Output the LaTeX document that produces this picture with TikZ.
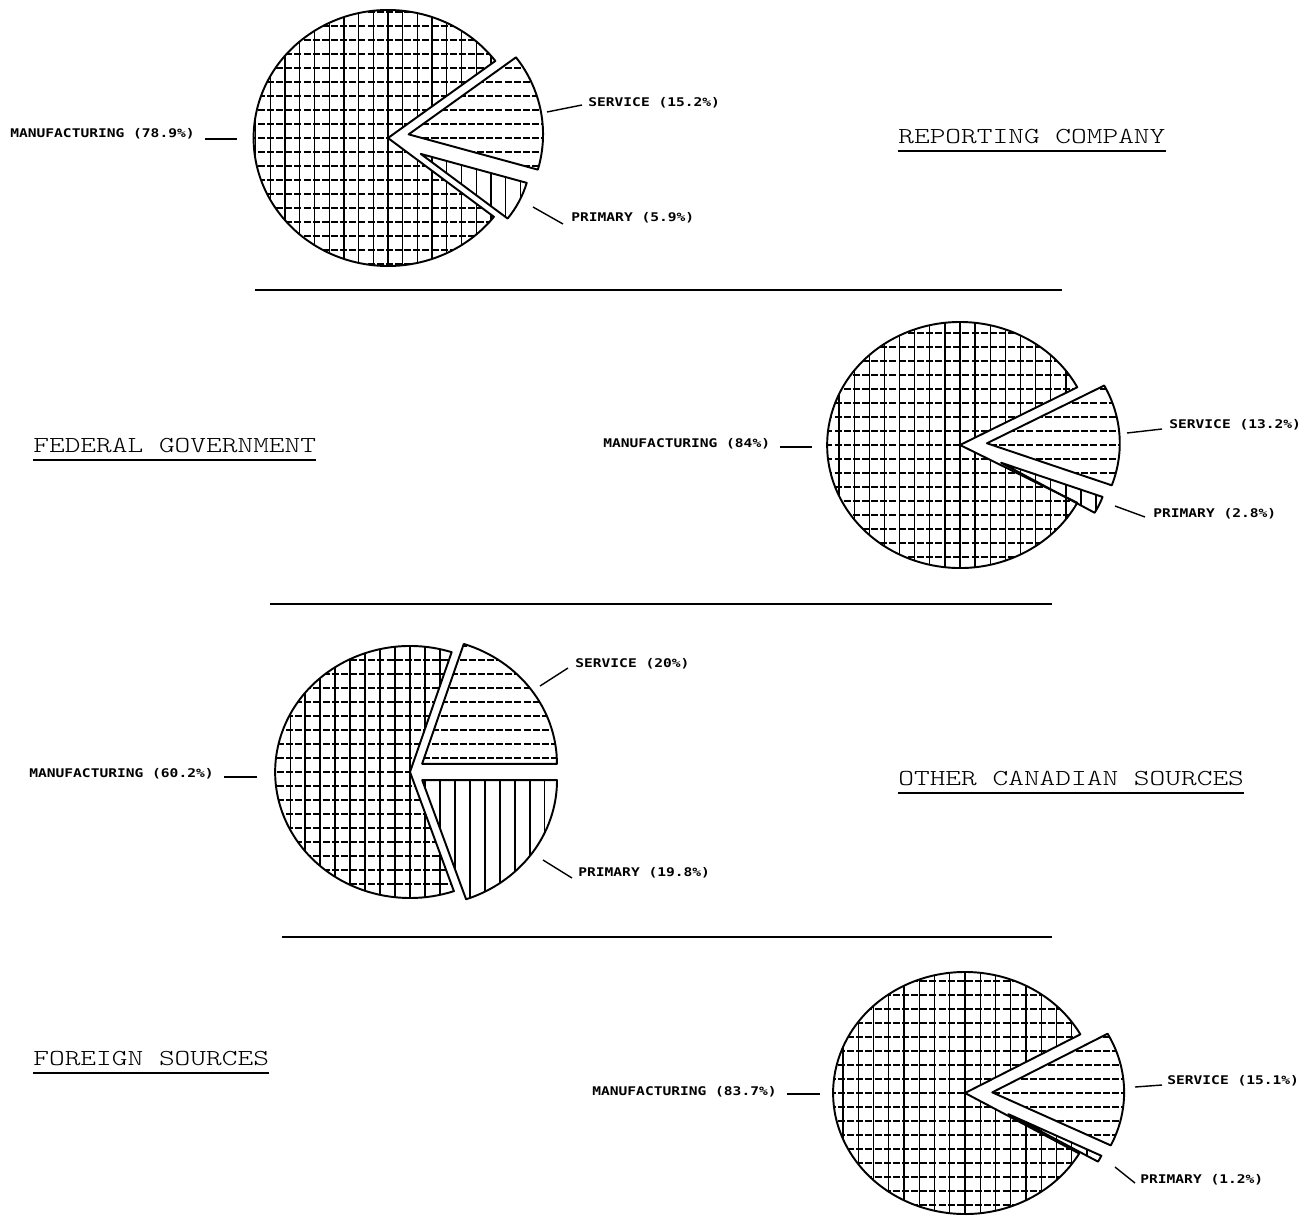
\documentclass[tikz,border=0pt]{standalone}
\usepackage{fontspec}
\newfontfamily\plotfont[FakeStretch=1.22]{DejaVu Sans Mono}
\newfontfamily\titlefont[FakeStretch=1.31]{lmmonolt10-regular.otf}
\usetikzlibrary{positioning}
\tikzstyle{slice edge}=[draw, line width=1.1pt, line join=round]
\tikzstyle{hatch solid}=[line width=0.75pt]
\tikzstyle{hatch dashed}=[line width=0.6pt, dash pattern=on 4pt off 1.2pt]
\tikzstyle{pie label}=[font=\plotfont\bfseries\fontsize{6.8}{8}\selectfont, inner sep=0, anchor=west]
\tikzstyle{leader}=[line width=0.8pt]
\tikzstyle{title}=[font=\titlefont\fontsize{13}{16}\selectfont, inner sep=0, anchor=base west]
\tikzstyle{rule}=[line width=1.1pt]

\newcommand{\gridhatch}{%
  \foreach \hx in {-140,-126,...,140} \draw[hatch solid] (\hx,-150) -- (\hx,150);
  \foreach \hy in {-140,-126,...,140} \draw[hatch dashed] (-150,\hy) -- (150,\hy);}
\newcommand{\horizhatch}{%
  \foreach \hy in {-140,-126,...,140} \draw[hatch dashed] (-150,\hy) -- (150,\hy);}
\newcommand{\verthatch}{%
  \foreach \hx in {-140,-126,...,140} \draw[hatch solid] (\hx,-150) -- (\hx,150);}

% start angle, end angle, offset, radius, hatch
\newcommand{\pieslice}[5]{%
  \pgfmathsetmacro{\slicemid}{(#1+#2)/2}
  \begin{scope}
    \clip (\slicemid:#3) -- +(#1:#4) arc[start angle=#1, end angle=#2, radius=#4] -- cycle;
    #5
  \end{scope}
  \draw[slice edge] (\slicemid:#3) -- +(#1:#4) arc[start angle=#1, end angle=#2, radius=#4] -- cycle;
}

\begin{document}
\begin{tikzpicture}[x=0.02cm, y=-0.02cm]
  \useasboundingbox (0,0) rectangle (1309,1215);

  % reporting company
  \begin{scope}[shift={(388,138)}, yscale=-1, xscale=1.05]
    \pieslice{37}{322}{0}{128}{\gridhatch}
    \pieslice{-16}{37}{20}{128}{\horizhatch}
    \pieslice{-38}{-16}{35}{105}{\verthatch}
  \end{scope}
  \node[pie label] (rc_mfg_label) at (10,134) {MANUFACTURING (78.9\%)};
  \node[pie label] (rc_srv_label) at (588,103) {SERVICE (15.2\%)};
  \node[pie label] (rc_pri_label) at (571,218) {PRIMARY (5.9\%)};
  \coordinate (rc_mfg_tip) at (237,139);
  \coordinate (rc_srv_tip) at (547,112);
  \coordinate (rc_pri_tip) at (533,207);
  \draw[leader] ([shift={(10,5)}]rc_mfg_label.east) -- (rc_mfg_tip);
  \draw[leader] (rc_srv_tip) -- ([shift={(-6,2)}]rc_srv_label.west);
  \draw[leader] (rc_pri_tip) -- ([shift={(-8,6)}]rc_pri_label.west);
  \node[title] (rc_title) at (898,143) {REPORTING COMPANY};
  \draw[rule] ([yshift=-4.5pt]rc_title.base west) -- ([yshift=-4.5pt]rc_title.base east);

  \coordinate (rule_a_left) at (255,290);
  \coordinate (rule_a_right) at (1062,290);
  \draw[rule] (rule_a_left) -- (rule_a_right);

  % federal government
  \begin{scope}[shift={(960,445)}, yscale=-1, xscale=1.08]
    \pieslice{28}{332}{0}{123}{\gridhatch}
    \pieslice{-20}{28}{25}{123}{\horizhatch}
    \pieslice{-30}{-20}{42}{100}{\verthatch}
  \end{scope}
  \node[pie label] (fg_mfg_label) at (603,444) {MANUFACTURING (84\%)};
  \node[pie label] (fg_srv_label) at (1169,425) {SERVICE (13.2\%)};
  \node[pie label] (fg_pri_label) at (1153,514) {PRIMARY (2.8\%)};
  \coordinate (fg_mfg_tip) at (812,447);
  \coordinate (fg_srv_tip) at (1127,433);
  \coordinate (fg_pri_tip) at (1115,506);
  \draw[leader] ([shift={(10,3)}]fg_mfg_label.east) -- (fg_mfg_tip);
  \draw[leader] (fg_srv_tip) -- ([shift={(-7,4)}]fg_srv_label.west);
  \draw[leader] (fg_pri_tip) -- ([shift={(-8,3)}]fg_pri_label.west);
  \node[title] (fg_title) at (33,452) {FEDERAL GOVERNMENT};
  \draw[rule] ([yshift=-4.5pt]fg_title.base west) -- ([yshift=-4.5pt]fg_title.base east);

  \coordinate (rule_b_left) at (270,604);
  \coordinate (rule_b_right) at (1052,604);
  \draw[rule] (rule_b_left) -- (rule_b_right);

  % other canadian sources
  \begin{scope}[shift={(410,772)}, yscale=-1, xscale=1.07]
    \pieslice{72}{289}{0}{126}{\gridhatch}
    \pieslice{0}{72}{14}{126}{\horizhatch}
    \pieslice{-71}{0}{14}{126}{\verthatch}
  \end{scope}
  \node[pie label] (oc_mfg_label) at (29,774) {MANUFACTURING (60.2\%)};
  \node[pie label] (oc_srv_label) at (575,664) {SERVICE (20\%)};
  \node[pie label] (oc_pri_label) at (578,873) {PRIMARY (19.8\%)};
  \coordinate (oc_mfg_tip) at (257,777);
  \coordinate (oc_srv_tip) at (540,686);
  \coordinate (oc_pri_tip) at (543,860);
  \draw[leader] ([shift={(10,3)}]oc_mfg_label.east) -- (oc_mfg_tip);
  \draw[leader] (oc_srv_tip) -- ([shift={(-7,4)}]oc_srv_label.west);
  \draw[leader] (oc_pri_tip) -- ([shift={(-6,5)}]oc_pri_label.west);
  \node[title] (oc_title) at (898,785) {OTHER CANADIAN SOURCES};
  \draw[rule] ([yshift=-4.5pt]oc_title.base west) -- ([yshift=-4.5pt]oc_title.base east);

  \coordinate (rule_c_left) at (282,937);
  \coordinate (rule_c_right) at (1052,937);
  \draw[rule] (rule_c_left) -- (rule_c_right);

  % foreign sources
  \begin{scope}[shift={(965,1093)}, yscale=-1, xscale=1.09]
    \pieslice{29}{330}{0}{121}{\gridhatch}
    \pieslice{-26}{29}{25}{121}{\horizhatch}
    \pieslice{-30}{-26}{45}{95}{\verthatch}
  \end{scope}
  \node[pie label] (fs_mfg_label) at (592,1092) {MANUFACTURING (83.7\%)};
  \node[pie label] (fs_srv_label) at (1167,1081) {SERVICE (15.1\%)};
  \node[pie label] (fs_pri_label) at (1140,1180) {PRIMARY (1.2\%)};
  \coordinate (fs_mfg_tip) at (820,1094);
  \coordinate (fs_srv_tip) at (1135,1087);
  \coordinate (fs_pri_tip) at (1115,1167);
  \draw[leader] ([shift={(10,2)}]fs_mfg_label.east) -- (fs_mfg_tip);
  \draw[leader] (fs_srv_tip) -- ([shift={(-5,4)}]fs_srv_label.west);
  \draw[leader] (fs_pri_tip) -- ([shift={(-5,3)}]fs_pri_label.west);
  \node[title] (fs_title) at (33,1065) {FOREIGN SOURCES};
  \draw[rule] ([yshift=-4.5pt]fs_title.base west) -- ([yshift=-4.5pt]fs_title.base east);
\end{tikzpicture}
\end{document}
